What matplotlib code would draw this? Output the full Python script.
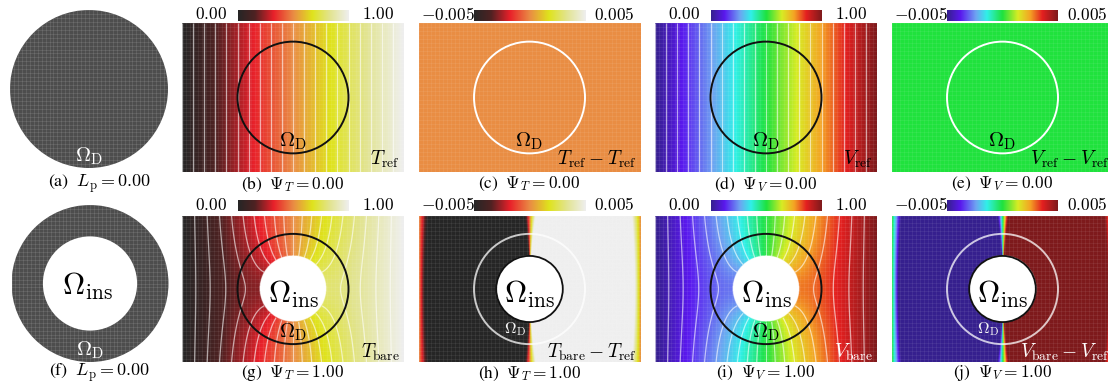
import numpy as np
import matplotlib
matplotlib.use('Agg')
import matplotlib.pyplot as plt
from matplotlib.colors import LinearSegmentedColormap, Normalize
from matplotlib.patches import Circle

plt.rcParams['mathtext.fontset'] = 'cm'
plt.rcParams['font.family'] = ['STIXGeneral', 'DejaVu Serif']

# chart values
letters_top = ['a', 'b', 'c', 'd', 'e']
letters_bot = ['f', 'g', 'h', 'i', 'j']
L_p = [0.00, 0.00]
psi_T = [0.00, 1.00]
psi_V = [0.00, 1.00]
field_range = [0.00, 1.00]
diff_range = [-0.005, 0.005]
design_radius = 0.75
hole_radius = 0.45
n_levels = 21
labels_top = [r'$T_{\rm ref}$', r'$T_{\rm ref}-T_{\rm ref}$', r'$V_{\rm ref}$', r'$V_{\rm ref}-V_{\rm ref}$']
labels_bot = [r'$T_{\rm bare}$', r'$T_{\rm bare}-T_{\rm ref}$', r'$V_{\rm bare}$', r'$V_{\rm bare}-V_{\rm ref}$']

cmap_T = LinearSegmentedColormap.from_list('heat', [
    (0.0, '#262626'), (0.15, '#4e2222'), (0.32, '#e8202a'), (0.5, '#ea8c44'),
    (0.67, '#dfe31c'), (0.83, '#e2e490'), (1.0, '#efefef')])
cmap_V = LinearSegmentedColormap.from_list('rainbow', [
    (0.0, '#36208e'), (0.12, '#5a18ee'), (0.26, '#6ea4f2'), (0.36, '#30f0e8'),
    (0.5, '#1ee23e'), (0.64, '#d8ec24'), (0.75, '#f4a424'), (0.86, '#e42020'),
    (1.0, '#7e1a1c')])
for c in (cmap_T, cmap_V):
    c.set_bad('white')

W, H = 1108, 386
fig = plt.figure(figsize=(W / 100, H / 100), dpi=100)
fig.patch.set_facecolor('white')


def rect(x, y, w, h):
    return [x / W, 1 - (y + h) / H, w / W, h / H]


# fields on the plotted domain
x = np.linspace(-1.5, 1.5, 700)
y = np.linspace(-1.0, 1.0, 470)
X, Y = np.meshgrid(x, y)
R2 = X ** 2 + Y ** 2
T_ref = (X + 1.5) / 3.0
pert = hole_radius ** 2 * X / np.maximum(R2, 1e-6) * (1 - (X / 1.5) ** 2)
T_bare = T_ref + pert / 3.0
hole = R2 < hole_radius ** 2
T_bare = np.ma.masked_where(hole, T_bare)
D_bare = np.ma.masked_where(hole, T_bare - T_ref)
D_ref = np.zeros_like(T_ref)


def mesh(ax, nx, ny, x0, x1, y0, y1, clip=None, alpha=0.08):
    for xv in np.linspace(x0, x1, nx):
        ln = ax.plot([xv, xv], [y0, y1], color='white', lw=0.5, alpha=alpha, zorder=2)[0]
        if clip is not None:
            ln.set_clip_path(clip)
    for yv in np.linspace(y0, y1, ny):
        ln = ax.plot([x0, x1], [yv, yv], color='white', lw=0.5, alpha=alpha, zorder=2)[0]
        if clip is not None:
            ln.set_clip_path(clip)


row_top = [23, 215.5]
row_h = [149, 147]
cbar_y = [10, 200.3]
cap_y = [184, 373]
col_left = [182, 418.5, 655, 891.5]
pw = 222

# disk panels (a), (f)
disk_rects = [(10, 10, 158, 158), (11.5, 205, 157, 157)]
for r in range(2):
    ax = fig.add_axes(rect(*disk_rects[r]))
    ax.set_xlim(-1, 1)
    ax.set_ylim(-1, 1)
    ax.axis('off')
    disk = Circle((0, 0), 1.0, facecolor='#4d4d4d', edgecolor='none', zorder=1)
    ax.add_patch(disk)
    mesh(ax, 41, 41, -1, 1, -1, 1, clip=disk, alpha=0.14)
    if r == 1:
        ax.add_patch(Circle((0, 0), hole_radius / design_radius, facecolor='white',
                            edgecolor='none', zorder=3))
        ax.text(-0.03, -0.14, r'$\Omega_{\rm ins}$', fontsize=22, ha='center', va='baseline', zorder=4)
    ax.text(0, -0.92, r'$\Omega_{\rm D}$', fontsize=15, color='white', ha='center', va='baseline', zorder=4)
    lt = letters_top[0] if r == 0 else letters_bot[0]
    fig.text(100 / W, 1 - cap_y[r] / H, '(%s)  $L_{\\rm p} = %.2f$' % (lt, L_p[r]),
             fontsize=13, ha='center', va='center')

# field panels
for r in range(2):
    for c in range(4):
        left = col_left[c]
        ax = fig.add_axes(rect(left, row_top[r], pw, row_h[r]))
        ax.set_xlim(-1.5, 1.5)
        ax.set_ylim(-1, 1)
        ax.axis('off')
        cmap = cmap_T if c < 2 else cmap_V
        is_diff = c % 2 == 1
        if is_diff:
            norm = Normalize(*diff_range)
            data = D_ref if r == 0 else D_bare
        else:
            norm = Normalize(*field_range)
            data = T_ref if r == 0 else T_bare
        ax.imshow(data, extent=(-1.5, 1.5, -1, 1), origin='lower', cmap=cmap, norm=norm,
                  aspect='auto', interpolation='bilinear', zorder=1)
        mesh(ax, 56, 38, -1.5, 1.5, -1, 1, alpha=0.09)
        if not is_diff:
            ax.contour(X, Y, data, levels=np.linspace(0, 1, n_levels), colors='white',
                       linewidths=0.9, alpha=0.6, zorder=3)
        # design circle
        if is_diff:
            ax.add_patch(Circle((0, 0), design_radius, fill=False, edgecolor='white',
                                lw=1.4, alpha=1.0 if r == 0 else 0.75, zorder=4))
        else:
            ax.add_patch(Circle((0, 0), design_radius, fill=False, edgecolor='#111111',
                                lw=1.4, zorder=4))
        if r == 1:
            if is_diff:
                ax.add_patch(Circle((0, 0), hole_radius, facecolor='white', edgecolor='#111111',
                                    lw=1.3, zorder=5))
            ax.text(0, -0.19, r'$\Omega_{\rm ins}$', fontsize=22, ha='center', va='baseline', zorder=6)
        # Omega_D label
        if r == 1 and is_diff:
            ax.text(-0.2, -0.6, r'$\Omega_{\rm D}$', fontsize=11.5, color='#f4f4f4',
                    ha='center', va='baseline', zorder=6)
        else:
            ax.text(0, -0.66, r'$\Omega_{\rm D}$', fontsize=15, color='black',
                    ha='center', va='baseline', zorder=6)
        # corner label
        lab = labels_top[c] if r == 0 else labels_bot[c]
        lab_col = 'white' if (r == 1 and c >= 2) else 'black'
        ax.text(218 / pw, 1 - 142 / row_h[r], lab, fontsize=14, color=lab_col,
                transform=ax.transAxes, ha='right', va='baseline', zorder=6, clip_on=False)
        # colorbar
        cax = fig.add_axes(rect(left + 55.5, cbar_y[r], 111, 10.7))
        cax.imshow(np.linspace(0, 1, 256)[None, :], cmap=cmap, aspect='auto',
                   extent=(0, 1, 0, 1))
        cax.axis('off')
        lo, hi = diff_range if is_diff else field_range
        fmt = '%.3f' if is_diff else '%.2f'
        lo_s = ('$-' + fmt % abs(lo) + '$') if lo < 0 else ('$' + fmt % lo + '$')
        hi_s = '$' + fmt % hi + '$'
        yc = 1 - (cbar_y[r] + 5.4) / H
        fig.text((left + 29.3) / W, yc, lo_s, fontsize=12.5, ha='center', va='center')
        fig.text((left + 195.7) / W, yc, hi_s, fontsize=12.5, ha='center', va='center')
        # caption
        lt = letters_top[c + 1] if r == 0 else letters_bot[c + 1]
        sym = 'T' if c < 2 else 'V'
        psi = psi_T[r] if c < 2 else psi_V[r]
        fig.text((left + 111) / W, 1 - cap_y[r] / H, '(%s)  $\\Psi_%s = %.2f$' % (lt, sym, psi),
                 fontsize=12.5, ha='center', va='center')

fig.savefig('out.png', dpi=100)
